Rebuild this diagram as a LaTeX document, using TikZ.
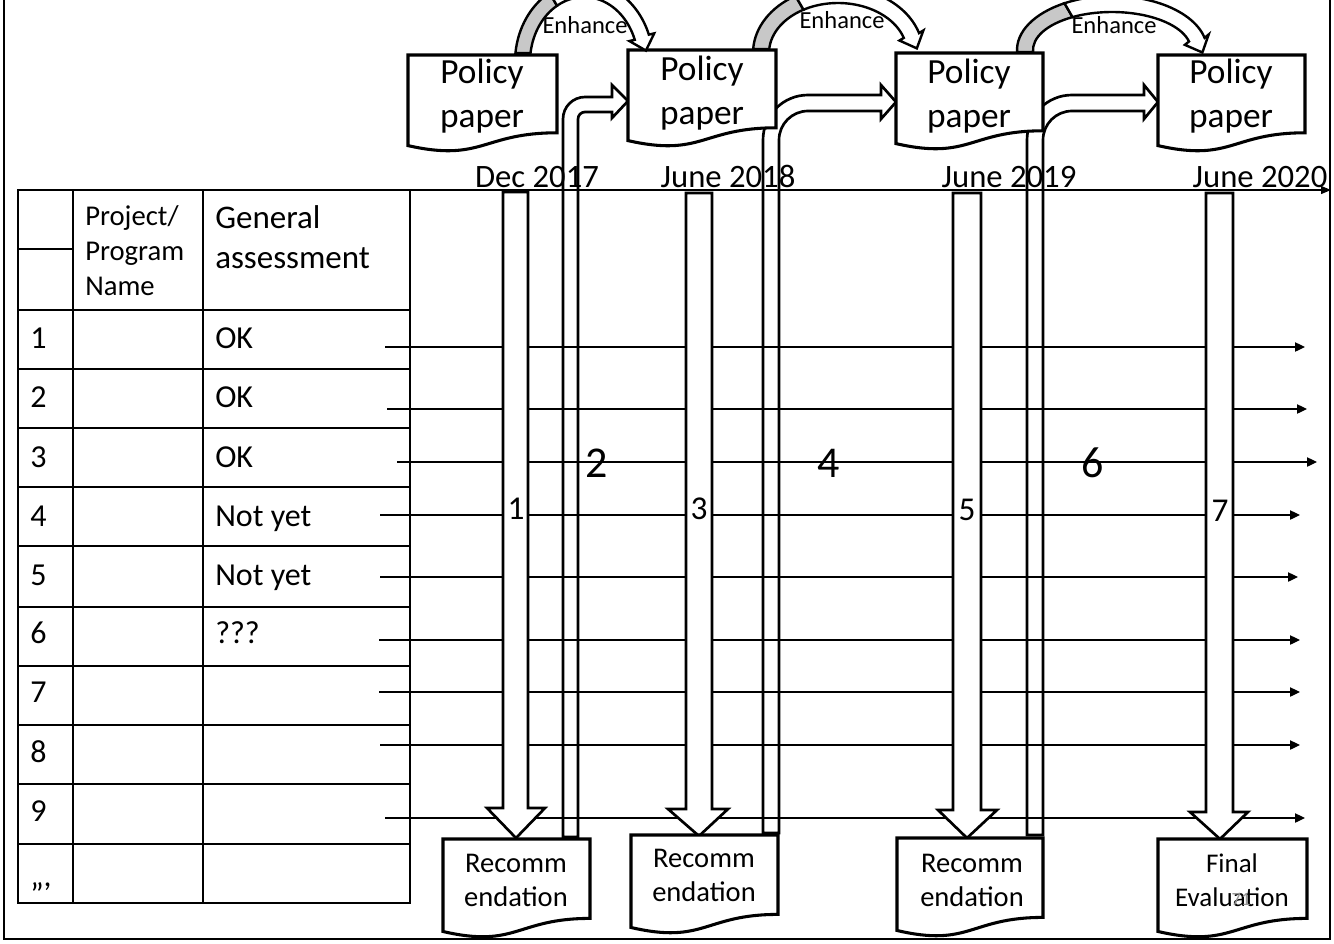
\documentclass[tikz,border=0pt]{standalone}
\usepackage{fontspec}
\setmainfont{Carlito}
\usetikzlibrary{arrows.meta,calc}
\definecolor{enhgray}{RGB}{200,200,200}
\definecolor{pagegray}{RGB}{150,150,150}

\newcommand{\mytwoc}[2]{\begin{tabular}[t]{@{}c@{}}#1\\#2\end{tabular}}
\newcommand{\mytwol}[2]{\begin{tabular}[t]{@{}l@{}}#1\\#2\end{tabular}}
\newcommand{\mythreel}[3]{\begin{tabular}[t]{@{}l@{}}#1\\#2\\#3\end{tabular}}

\newcommand{\docpath}[5]{%
  \pgfmathsetmacro{\docM}{(#2+#4)/2}%
  \pgfmathsetmacro{\docBr}{-(#3+0.802*#5)}%
  \pgfmathsetmacro{\docBc}{-(#3+1.107*#5)}%
  \pgfmathsetmacro{\docBl}{-(#3+0.934*#5)}%
  \draw[docbox] (#2,-#3) -- (#4,-#3) -- (#4,\docBr) .. controls (\docM,\docBr) and (\docM,\docBc) .. (#2,\docBl) -- cycle;
  \coordinate (#1) at (\docM,-#3);
}

\newcommand{\blockarrow}[8]{%
  \draw[barrow] (#1,-#3) -- (#2,-#3) -- (#2,-#4) -- (#6,-#4) -- (#7,-#8) -- (#5,-#4) -- (#1,-#4) -- cycle;
}

% curved "Enhance" arrow: cx cy A B w ybot tend tgrey
\newcommand{\enharrow}[8]{%
  \pgfmathsetmacro{\enha}{#3-#5}%
  \pgfmathsetmacro{\enhb}{#4-#5}%
  \pgfmathsetmacro{\enhSo}{180-asin((#2-#6)/#4)}%
  \pgfmathsetmacro{\enhSi}{180-asin((#2-#6)/\enhb)}%
  \pgfmathsetmacro{\enhXo}{#1+#3*cos(\enhSo)}%
  \pgfmathsetmacro{\enhXi}{#1+\enha*cos(\enhSi)}%
  \pgfmathsetmacro{\enhGxo}{#1+#3*cos(#8)}%
  \pgfmathsetmacro{\enhGyo}{-#2+#4*sin(#8)}%
  \pgfmathsetmacro{\enhGxi}{#1+\enha*cos(#8)}%
  \pgfmathsetmacro{\enhGyi}{-#2+\enhb*sin(#8)}%
  \pgfmathsetmacro{\enhExo}{#1+#3*cos(#7)}%
  \pgfmathsetmacro{\enhEyo}{-#2+#4*sin(#7)}%
  \pgfmathsetmacro{\enhExi}{#1+\enha*cos(#7)}%
  \pgfmathsetmacro{\enhEyi}{-#2+\enhb*sin(#7)}%
  \pgfmathsetmacro{\enhMx}{(\enhExo+\enhExi)/2}%
  \pgfmathsetmacro{\enhMy}{(\enhEyo+\enhEyi)/2}%
  \pgfmathsetmacro{\enhDx}{(#3-#5/2)*sin(#7)}%
  \pgfmathsetmacro{\enhDy}{-(#4-#5/2)*cos(#7)}%
  \pgfmathsetmacro{\enhDn}{sqrt(\enhDx*\enhDx+\enhDy*\enhDy)}%
  \pgfmathsetmacro{\enhUx}{\enhDx/\enhDn}%
  \pgfmathsetmacro{\enhUy}{\enhDy/\enhDn}%
  \pgfmathsetmacro{\enhBox}{\enhMx-13*\enhUy}%
  \pgfmathsetmacro{\enhBoy}{\enhMy+13*\enhUx}%
  \pgfmathsetmacro{\enhBix}{\enhMx+13*\enhUy}%
  \pgfmathsetmacro{\enhBiy}{\enhMy-13*\enhUx}%
  \pgfmathsetmacro{\enhTx}{\enhMx+14*\enhUx}%
  \pgfmathsetmacro{\enhTy}{\enhMy+14*\enhUy}%
  \filldraw[enhgrey] (\enhXo,-#6) arc[start angle=\enhSo,end angle=#8,x radius=#3,y radius=#4] -- (\enhGxi,\enhGyi) arc[start angle=#8,end angle=\enhSi,x radius=\enha,y radius=\enhb] -- cycle;
  \filldraw[enhwhite] (\enhGxo,\enhGyo) arc[start angle=#8,end angle=#7,x radius=#3,y radius=#4] -- (\enhBox,\enhBoy) -- (\enhTx,\enhTy) -- (\enhBix,\enhBiy) -- (\enhExi,\enhEyi) arc[start angle=#7,end angle=#8,x radius=\enha,y radius=\enhb] -- cycle;
}

\tikzset{
  frameline/.style={line width=1.5pt},
  tblline/.style={line width=1.2pt},
  rowline/.style={line width=0.9pt,-{Triangle[length=7.5pt,width=7pt]}},
  axisline/.style={line width=0.9pt,-{Triangle[length=7.5pt,width=6pt]}},
  barrow/.style={line width=2pt,fill=white,line join=miter},
  uarrow/.style={line width=2pt,line join=miter},
  docbox/.style={line width=2.3pt,fill=white,line join=miter},
  enhgrey/.style={line width=1.8pt,fill=enhgray},
  enhwhite/.style={line width=1.8pt,fill=white,line join=miter},
  txt/.style={inner sep=0pt,anchor=base},
  ltxt/.style={inner sep=0pt,anchor=base west},
  papertxt/.style={txt,font=\fontsize{26.5}{33}\selectfont},
  rectxt/.style={txt,font=\fontsize{21.4}{25.5}\selectfont},
  datetxt/.style={txt,font=\fontsize{24.5}{29}\selectfont},
  enhtxt/.style={txt,font=\fontsize{18.4}{22}\selectfont},
  celltxt/.style={ltxt,font=\fontsize{24}{29}\selectfont},
  smallnum/.style={txt,font=\fontsize{25}{30}\selectfont},
  bignum/.style={txt,font=\fontsize{33}{40}\selectfont},
}

\begin{document}
\begin{tikzpicture}[x=0.75pt,y=0.75pt]
\useasboundingbox (0,0) rectangle (1334,-943);
\clip (0,0) rectangle (1334,-943);

% outer frame
\draw[frameline] (4,2) -- (4,-939) -- (1330,-939) -- (1330,2);

% table
\draw[tblline] (18,-190) rectangle (410,-903);
\foreach \x in {73,203} \draw[tblline] (\x,-190) -- (\x,-903);
\foreach \y in {310,369,428,487,546,607,666,725,784,844} \draw[tblline] (18,-\y) -- (410,-\y);
\draw[tblline] (18,-249) -- (73,-249);

\node[ltxt,font=\fontsize{21.5}{26.25}\selectfont] (hproj) at (85,-225) {\mythreel{Project/}{Program}{Name}};
\node[ltxt,font=\fontsize{24.75}{30}\selectfont] (hgen) at (215,-228) {\mytwol{General}{assessment}};

\node[celltxt] (n1) at (30,-348) {1};
\node[celltxt] (n2) at (30,-407) {2};
\node[celltxt] (n3) at (30,-467) {3};
\node[celltxt] (n4) at (30,-526) {4};
\node[celltxt] (n5) at (30,-585) {5};
\node[celltxt] (n6) at (30,-643) {6};
\node[celltxt] (n7) at (30,-702) {7};
\node[celltxt] (n8) at (30,-762) {8};
\node[celltxt] (n9) at (30,-821) {9};
\node[celltxt] (n10) at (30,-886) {,,,};
\node[celltxt] (g1) at (215,-348) {OK};
\node[celltxt] (g2) at (215,-407) {OK};
\node[celltxt] (g3) at (215,-467) {OK};
\node[celltxt] (g4) at (215,-526) {Not yet};
\node[celltxt] (g5) at (215,-585) {Not yet};
\node[celltxt] (g6) at (215,-643) {???};

% bent arrows (recommendation -> next policy paper)
\draw[uarrow] (563,-837) -- (563,-119) arc[start angle=180,end angle=90,radius=22] -- (612,-97) -- (612,-85) -- (628,-101) -- (612,-118) -- (612,-112) -- (585,-112) arc[start angle=90,end angle=180,radius=7] -- (578,-837) -- cycle;
\draw[uarrow] (763,-833) -- (763,-140) arc[start angle=180,end angle=90,radius=45] -- (881,-95) -- (881,-85) -- (896,-102) -- (881,-119) -- (881,-111) -- (808,-111) arc[start angle=90,end angle=180,radius=29] -- (779,-833) -- cycle;
\draw[uarrow] (1027,-835) -- (1027,-140) arc[start angle=180,end angle=90,radius=45] -- (1144,-95) -- (1144,-85) -- (1158,-102) -- (1144,-119) -- (1144,-111) -- (1072,-111) arc[start angle=90,end angle=180,radius=29] -- (1043,-835) -- cycle;

% time axis
\coordinate (axs) at (410,-190);
\coordinate (axe) at (1331,-190);
\draw[axisline] (axs) -- (axe);

% project rows
\foreach \i/\y/\xs/\xe in {1/347/385/1305, 2/409/387/1307, 3/462/397/1317, 4/515/380/1300, 5/577/380/1298, 6/640/379/1300, 7/692/379/1300, 8/745/380/1300, 9/818/385/1305}{
  \coordinate (rs\i) at (\xs,-\y);
  \coordinate (re\i) at (\xe,-\y);
  \draw[rowline] (rs\i) -- (re\i);
}

% block arrows down
\blockarrow{503}{528}{192}{808}{487}{545}{516}{838}
\blockarrow{686}{712}{193}{809}{668}{728}{699}{836}
\blockarrow{953}{981}{193}{810}{938}{997}{967}{838}
\blockarrow{1206}{1233}{193}{812}{1190}{1248}{1220}{839}

% policy papers
\docpath{pp1}{408}{55}{557}{97}
\docpath{pp2}{628}{50}{776}{97}
\docpath{pp3}{896}{53}{1043}{97}
\docpath{pp4}{1158}{55}{1305}{97}

% recommendation documents
\docpath{rc1}{443}{839}{590}{99}
\docpath{rc2}{631}{835}{778}{99}
\docpath{rc3}{897}{838}{1043}{99}
\docpath{rc4}{1158}{839}{1307}{99}

% enhance arrows
\enharrow{584}{62}{69}{80}{15}{53}{20}{120}
\enharrow{838}{53}{85}{66}{16}{49}{17.6}{120}
\enharrow{1112}{50}{95}{54}{16}{52}{13}{120}

% texts
\node[papertxt] (pt1) at (482,-83) {\mytwoc{Policy}{paper}};
\node[papertxt] (pt2) at (702,-80) {\mytwoc{Policy}{paper}};
\node[papertxt] (pt3) at (969,-83) {\mytwoc{Policy}{paper}};
\node[papertxt] (pt4) at (1231,-83) {\mytwoc{Policy}{paper}};

\node[enhtxt] (e1) at (585,-33) {Enhance};
\node[enhtxt] (e2) at (842,-28) {Enhance};
\node[enhtxt] (e3) at (1114,-33) {Enhance};

\node[datetxt] (d1) at (537,-187) {Dec 2017};
\node[datetxt] (d2) at (728,-187) {June 2018};
\node[datetxt] (d3) at (1009,-187) {June 2019};
\node[datetxt] (d4) at (1260,-187) {June 2020};

\node[rectxt] (rt1) at (516,-872) {\mytwoc{Recomm}{endation}};
\node[rectxt] (rt2) at (704,-867) {\mytwoc{Recomm}{endation}};
\node[rectxt] (rt3) at (972,-872) {\mytwoc{Recomm}{endation}};
\node[txt,font=\fontsize{20.25}{25.5}\selectfont] (rt4) at (1232,-872) {\mytwoc{Final}{Evaluation}};
\node[txt,font=\fontsize{14}{16}\selectfont,text=pagegray] (pgno) at (1241,-905) {71};

\node[smallnum] (s1) at (516,-519) {1};
\node[smallnum] (s3) at (699,-519) {3};
\node[smallnum] (s5) at (967,-520) {5};
\node[smallnum] (s7) at (1220,-521) {7};

\node[bignum] (b2) at (597,-477) {2};
\node[bignum] (b4) at (829,-477) {4};
\node[bignum] (b6) at (1093,-477) {6};
\end{tikzpicture}
\end{document}
